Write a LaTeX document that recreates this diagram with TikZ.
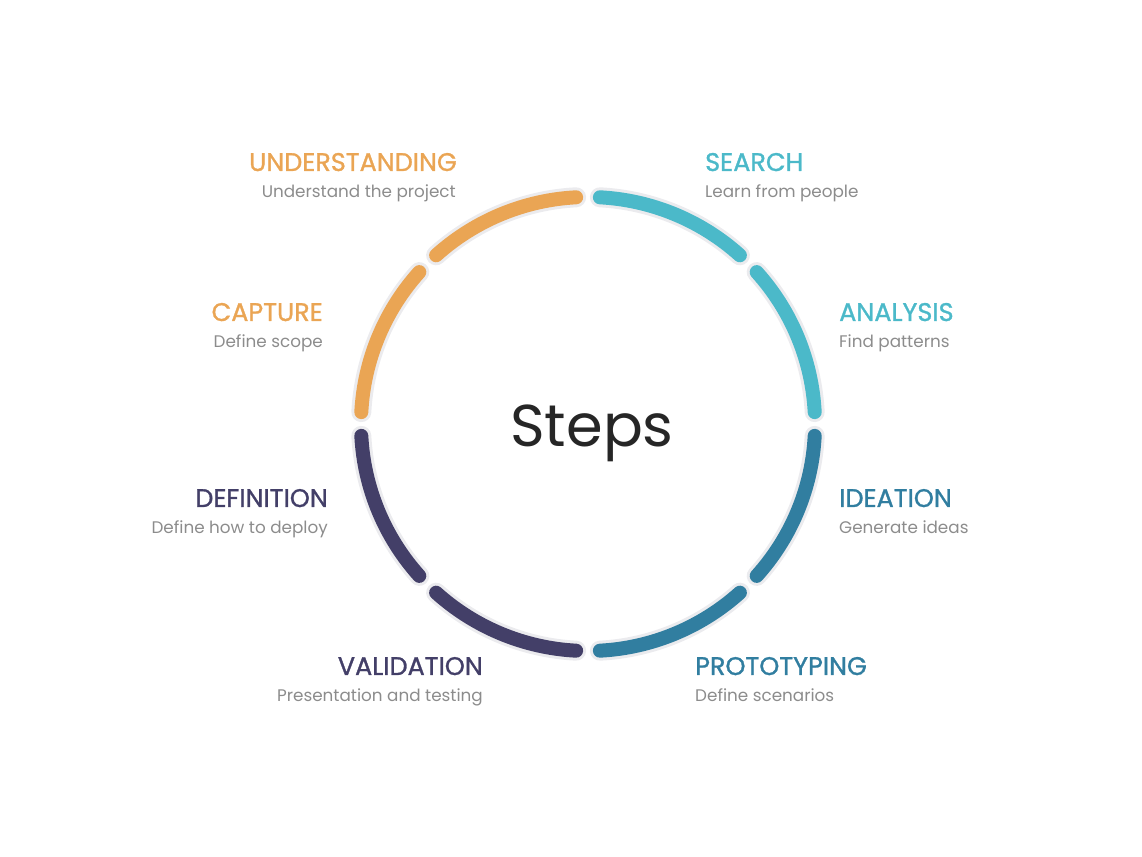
\documentclass[tikz,border=0pt]{standalone}
\usepackage{fontspec}
\setmainfont{Poppins}
\newfontfamily\headfont[FakeBold=1.2]{Poppins}
\definecolor{orangec}{HTML}{EAA554}
\definecolor{cyanc}{HTML}{4BB9C9}
\definecolor{bluec}{HTML}{317EA0}
\definecolor{purplec}{HTML}{433F68}
\definecolor{descc}{HTML}{8C8C8C}
\definecolor{rimc}{HTML}{EBEBEE}
\tikzset{
  head/.style={font=\headfont\fontsize{25.5}{25.5}\selectfont, inner sep=0pt},
  desc/.style={font=\fontsize{16.8}{16.8}\selectfont, text=descc, inner sep=0pt},
  rim/.style={line width=20pt, line cap=round, draw=rimc},
  band/.style={line width=14pt, line cap=round}
}
\begin{document}
\begin{tikzpicture}[x=1pt,y=1pt]

% canvas
\useasboundingbox (0,0) rectangle (1142,856);

% ring of steps
\foreach \a/\b/\c in {87/48/cyanc, 42/3/cyanc, -3/-42/bluec, -48/-87/bluec,
  -93/-132/purplec, -138/-177/purplec, 177/138/orangec, 132/93/orangec}{
  \draw[rim] (588,432) ++(\a:227) arc[start angle=\a, end angle=\b, radius=227];
  \draw[band, draw=\c] (588,432) ++(\a:227) arc[start angle=\a, end angle=\b, radius=227];
}

% centre title
\node[font=\fontsize{59}{59}\selectfont, text=black!85, inner sep=0pt, anchor=base] (title) at (592,409) {Steps};

% right side labels
\node[head, text=cyanc, anchor=base west] (search) at (705,685) {SEARCH};
\node[desc, anchor=base west] (searchd) at (705,658) {Learn from people};
\node[head, text=cyanc, anchor=base west] (analysis) at (839,535) {ANALYSIS};
\node[desc, anchor=base west] (analysisd) at (839,508) {Find patterns};
\node[head, text=bluec, anchor=base west] (ideation) at (839,349) {IDEATION};
\node[desc, anchor=base west] (ideationd) at (839,322) {Generate ideas};
\node[head, text=bluec, anchor=base west] (proto) at (695,181) {PROTOTYPING};
\node[desc, anchor=base west] (protod) at (695,154) {Define scenarios};

% left side labels
\node[head, text=orangec, anchor=base east] (underst) at (457,685) {UNDERSTANDING};
\node[desc, anchor=base east] (understd) at (456,658) {Understand the project};
\node[head, text=orangec, anchor=base east] (capture) at (323,535) {CAPTURE};
\node[desc, anchor=base east] (captured) at (323,508) {Define scope};
\node[head, text=purplec, anchor=base east] (defin) at (328,349) {DEFINITION};
\node[desc, anchor=base east] (defind) at (328,322) {Define how to deploy};
\node[head, text=purplec, anchor=base east] (valid) at (483,181) {VALIDATION};
\node[desc, anchor=base east] (validd) at (483,154) {Presentation and testing};

\end{tikzpicture}
\end{document}
